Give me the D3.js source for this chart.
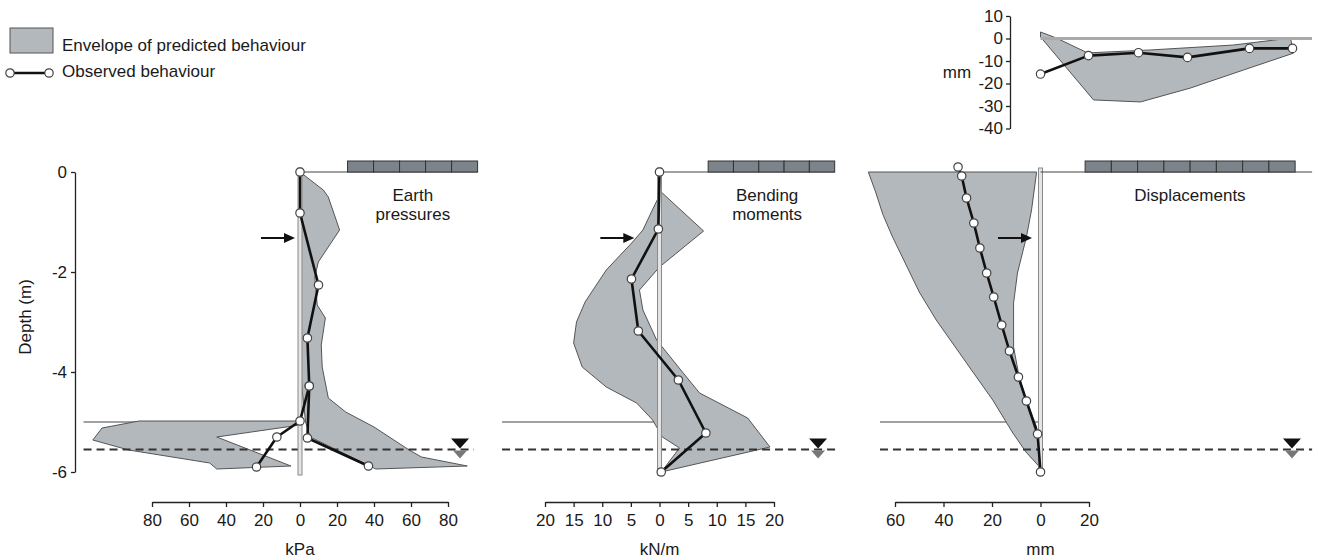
<!DOCTYPE html>
<html lang='en'>
<head>
<meta charset='UTF-8'>
<title>Predicted vs observed wall behaviour</title>
<style>
body { margin: 0; background: #fff; }
text { font-family: 'Liberation Sans', Arial, sans-serif; fill: #1a1a1a; }
.tick text { font-size: 17px; }
.label { font-size: 17px; }
.axis path, .axis line { stroke: #222; stroke-width: 1.3; }
.env { fill: #b3b8bc; stroke: #555; stroke-width: 1; }
.obs { fill: none; stroke: #111; stroke-width: 2.6; stroke-linejoin: round; }
.dot { fill: #fff; stroke: #444; stroke-width: 1.2; }
</style>
<script src='https://d3js.org/d3.v7.min.js'></script>
</head>
<body>
<script>

// shared values
var excavationDepth = -5.0;
var waterDepth = -5.55;
var depthTicks = [0, -2, -4, -6];

// earth pressures (kPa, depth m); negative = excavated side
var epTicks = [-80, -60, -40, -20, 0, 20, 40, 60, 80];
var epEnvRetained = [[0, 0], [12.6, -0.36], [15.3, -0.5], [21.4, -1.16], [9.9, -1.8], [8, -2.1], [9.3, -2.66],
  [13.7, -2.92], [11.5, -3.46], [12, -3.9], [15.3, -4.52], [24.7, -4.8], [40, -5.1], [59, -5.56],
  [65.7, -5.7], [90.4, -5.88], [41, -5.94], [5.5, -5.3], [3, -5.0], [1, -4.3], [0, -3.5]];
var epEnvExcavated = [[0, -4.98], [-87, -4.98], [-107, -5.12], [-112, -5.36], [-92.6, -5.56], [-48.8, -5.82],
  [-45, -5.94], [-4.9, -5.88], [-45, -5.3], [0, -5.06]];
var epObsRetained = [[0, 0], [0, -0.82], [10, -2.26], [4, -3.32], [5, -4.28], [4, -5.32], [37, -5.88]];
var epObsExcavated = [[5, -4.28], [0, -4.98], [-12.5, -5.3], [-23.5, -5.9]];

// bending moments (kN/m, depth m)
var bmTicks = [-20, -15, -10, -5, 0, 5, 10, 15, 20];
var bmEnv = [[0.3, -0.4], [7.7, -1.18], [0, -1.9], [-3.5, -2.36], [-2.9, -2.76], [-0.5, -3.36], [4, -4.0],
  [7, -4.42], [15.4, -4.92], [19.3, -5.5], [0.3, -6.0], [3.5, -5.52], [0.5, -5.3], [-1.2, -4.96],
  [-4, -4.62], [-9.3, -4.3], [-13.5, -3.9], [-15, -3.42], [-14.5, -3.0], [-13, -2.6], [-9.3, -1.96],
  [-4.7, -1.4], [-2.9, -1.16], [-1, -0.7]];
var bmObs = [[0, 0], [-0.2, -1.14], [-4.9, -2.14], [-3.7, -3.18], [3.3, -4.16], [8.1, -5.22], [0.3, -6.0]];

// displacements (mm, depth m)
var dispTicks = [-60, -40, -20, 0, 20];
var dispEnv = [[-71, 0], [-1.6, 0], [-3.7, -0.76], [-5.8, -1.3], [-9.5, -2.02], [-11.1, -2.62], [-11.1, -3.5],
  [-8.8, -4.1], [-5.8, -4.58], [-1.6, -5.1], [0, -5.92], [-6, -5.6], [-11.4, -5.22], [-19.7, -4.56],
  [-30.5, -3.82], [-43, -2.96], [-50, -2.4], [-56, -1.8], [-61, -1.3], [-65, -0.85], [-68, -0.4]];
var dispObs = [[-34, 0.1], [-32.5, -0.08], [-30.5, -0.52], [-27.5, -1.02], [-25, -1.52], [-22.2, -2.02],
  [-19.3, -2.5], [-16, -3.06], [-12.8, -3.58], [-9.1, -4.1], [-5.8, -4.58], [-1.2, -5.24], [0, -6.0]];

// surface settlement inset (distance behind wall m, mm)
var settleTicks = [10, 0, -10, -20, -30, -40];
var settleEnv = [[0, 2.9], [0.32, 0.2], [0.94, -6.4], [2.2, -5.1], [3.86, -2.9], [5.0, 0.2], [5.06, -6.5],
  [4.06, -14], [3.0, -22], [2.0, -28.2], [1.06, -27.3], [0, 0.7]];
var settleObs = [[0, -15.8], [0.96, -7.6], [1.96, -6.3], [2.94, -8.4], [4.18, -4.4], [5.04, -4.4]];

var svg = d3.select('body').append('svg').attr('width', 1318).attr('height', 560);

var depth = d3.scaleLinear().domain([0, -6]).range([172, 472]);
var fmtAbs = function (d) { return String(Math.abs(d)); };

var panels = [
  { x: d3.scaleLinear().domain([-80, 80]).range([152, 448]), ticks: epTicks, unit: 'kPa',
    title: ['Earth', 'pressures'], titleAt: 61, envs: [epEnvRetained, epEnvExcavated],
    obs: [epObsRetained, epObsExcavated], lineFrom: -117, waterTo: 94, groundTo: 96,
    blocks: [25.7, 96], nBlocks: 5, arrowTo: -2.7, waterSym: 86.5 },
  { x: d3.scaleLinear().domain([-20, 20]).range([545, 774]), ticks: bmTicks, unit: 'kN/m',
    title: ['Bending', 'moments'], titleAt: 18.8, envs: [bmEnv], obs: [bmObs],
    lineFrom: -27.5, waterTo: 31, groundTo: 30.6, blocks: [8.5, 30.6], nBlocks: 5, arrowTo: -4.4, waterSym: 27.7 },
  { x: d3.scaleLinear().domain([-60, 20]).range([895, 1089]), ticks: dispTicks, unit: 'mm',
    title: ['Displacements'], titleAt: 61.6, envs: [dispEnv], obs: [dispObs],
    lineFrom: -66.2, waterTo: 112, groundTo: 112, blocks: [18.4, 105], nBlocks: 8, arrowTo: -3.5, waterSym: 103.7 }
];

var yExc = depth(excavationDepth);
var yW = depth(waterDepth);

// depth axis

svg.append('g')
  .attr('class', 'axis')
  .attr('transform', 'translate(75,0)')
  .call(d3.axisLeft(depth).tickValues(depthTicks).tickSize(4).tickSizeOuter(0).tickPadding(4)
    .tickFormat(function (d) { return String(d); }));

svg.append('text')
  .attr('class', 'label')
  .attr('transform', 'translate(27,317) rotate(-90)')
  .attr('text-anchor', 'middle')
  .attr('dominant-baseline', 'middle')
  .text('Depth (m)');

panels.forEach(function (p) {
  var g = svg.append('g');
  var x = p.x;
  var x0 = x(0);

  // excavation level
  g.append('line')
    .attr('x1', x(p.lineFrom)).attr('x2', x0)
    .attr('y1', yExc).attr('y2', yExc)
    .attr('stroke', '#444').attr('stroke-width', 1.2);

  // predicted envelopes
  var area = d3.line().x(function (d) { return x(d[0]); }).y(function (d) { return depth(d[1]); });
  p.envs.forEach(function (e) {
    g.append('path').attr('class', 'env').attr('d', area(e) + 'Z');
  });

  // water table
  g.append('line')
    .attr('x1', x(p.lineFrom)).attr('x2', x(p.waterTo))
    .attr('y1', yW).attr('y2', yW)
    .attr('stroke', '#333').attr('stroke-width', 2).attr('stroke-dasharray', '8,5');

  var wx = x(p.waterSym);
  g.append('path')
    .attr('d', 'M' + (wx - 9) + ',' + (yW - 11) + 'L' + (wx + 9) + ',' + (yW - 11) + 'L' + wx + ',' + (yW - 1) + 'Z')
    .attr('fill', '#111');
  g.append('path')
    .attr('d', 'M' + (wx - 7) + ',' + (yW + 1) + 'L' + (wx + 7) + ',' + (yW + 1) + 'L' + wx + ',' + (yW + 9) + 'Z')
    .attr('fill', '#777');

  // wall
  g.append('rect')
    .attr('x', x0 - 2).attr('width', 4)
    .attr('y', depth(0.08)).attr('height', depth(-6.06) - depth(0.08))
    .attr('fill', '#e4e4e4').attr('stroke', '#8a8a8a').attr('stroke-width', 1);

  // ground surface and building
  g.append('line')
    .attr('x1', x0).attr('x2', x(p.groundTo))
    .attr('y1', depth(0)).attr('y2', depth(0))
    .attr('stroke', '#444').attr('stroke-width', 1.2);

  var bx0 = x(p.blocks[0]);
  var bw = (x(p.blocks[1]) - bx0) / p.nBlocks;
  g.selectAll('.block')
    .data(d3.range(p.nBlocks))
    .enter()
    .append('rect')
    .attr('class', 'block')
    .attr('x', function (i) { return bx0 + i * bw; })
    .attr('width', bw)
    .attr('y', depth(0) - 11).attr('height', 11)
    .attr('fill', '#7c838b').attr('stroke', '#333').attr('stroke-width', 1);

  // observed
  p.obs.forEach(function (o) {
    g.append('path').attr('class', 'obs').attr('d', area(o));
  });
  p.obs.forEach(function (o) {
    g.selectAll(null)
      .data(o)
      .enter()
      .append('circle')
      .attr('class', 'dot')
      .attr('r', 4.2)
      .attr('cx', function (d) { return x(d[0]); })
      .attr('cy', function (d) { return depth(d[1]); });
  });

  // title
  var t = g.append('text')
    .attr('class', 'label')
    .attr('text-anchor', 'middle')
    .attr('x', x(p.titleAt))
    .attr('y', 201);
  p.title.forEach(function (s, i) {
    t.append('tspan').attr('x', x(p.titleAt)).attr('dy', i ? 19 : 0).text(s);
  });

  // arrow
  var ax = x(p.arrowTo);
  var ay = depth(-1.32);
  g.append('line')
    .attr('x1', ax - 34).attr('x2', ax - 8)
    .attr('y1', ay).attr('y2', ay)
    .attr('stroke', '#111').attr('stroke-width', 2);
  g.append('path')
    .attr('d', 'M' + ax + ',' + ay + 'L' + (ax - 11) + ',' + (ay - 5) + 'L' + (ax - 11) + ',' + (ay + 5) + 'Z')
    .attr('fill', '#111');

  // x axis
  g.append('g')
    .attr('class', 'axis')
    .attr('transform', 'translate(0,502)')
    .call(d3.axisBottom(x).tickValues(p.ticks).tickSize(5).tickSizeOuter(0).tickPadding(7).tickFormat(fmtAbs));

  g.append('text')
    .attr('class', 'label')
    .attr('text-anchor', 'middle')
    .attr('dominant-baseline', 'middle')
    .attr('x', x0)
    .attr('y', 551)
    .text(p.unit);
});

// settlement inset

var dist = d3.scaleLinear().domain([0, 5]).range([1040.5, 1290.5]);
var sy = d3.scaleLinear().domain([10, -40]).range([16, 128.5]);
var inset = svg.append('g');
var sline = d3.line().x(function (d) { return dist(d[0]); }).y(function (d) { return sy(d[1]); });

inset.append('path').attr('class', 'env').attr('d', sline(settleEnv) + 'Z');

inset.append('line')
  .attr('x1', dist(0)).attr('x2', dist(5.43))
  .attr('y1', sy(0)).attr('y2', sy(0))
  .attr('stroke', '#aaa').attr('stroke-width', 3);

inset.append('path').attr('class', 'obs').attr('d', sline(settleObs));
inset.selectAll(null)
  .data(settleObs)
  .enter()
  .append('circle')
  .attr('class', 'dot')
  .attr('r', 4.2)
  .attr('cx', function (d) { return dist(d[0]); })
  .attr('cy', function (d) { return sy(d[1]); });

inset.append('g')
  .attr('class', 'axis')
  .attr('transform', 'translate(1010,0)')
  .call(d3.axisLeft(sy).tickValues(settleTicks).tickSize(4).tickSizeOuter(0).tickPadding(3)
    .tickFormat(function (d) { return String(d); }));

inset.append('text')
  .attr('class', 'label')
  .attr('text-anchor', 'middle')
  .attr('dominant-baseline', 'middle')
  .attr('x', 957)
  .attr('y', 74)
  .text('mm');

// legend

var legend = svg.append('g');
legend.append('rect')
  .attr('class', 'env')
  .attr('x', 10).attr('y', 28).attr('width', 43).attr('height', 25);
legend.append('text')
  .attr('class', 'label')
  .attr('dominant-baseline', 'middle')
  .attr('x', 62).attr('y', 47)
  .text('Envelope of predicted behaviour');
legend.append('line')
  .attr('x1', 10).attr('x2', 49).attr('y1', 73).attr('y2', 73)
  .attr('stroke', '#111').attr('stroke-width', 2.6);
legend.selectAll(null)
  .data([10, 49])
  .enter()
  .append('circle')
  .attr('class', 'dot')
  .attr('r', 4.2)
  .attr('cx', function (d) { return d; })
  .attr('cy', 73);
legend.append('text')
  .attr('class', 'label')
  .attr('dominant-baseline', 'middle')
  .attr('x', 62).attr('y', 73)
  .text('Observed behaviour');

</script>
</body>
</html>
